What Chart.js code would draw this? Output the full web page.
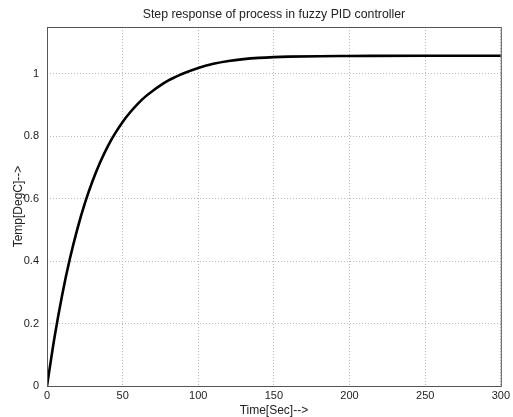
<!DOCTYPE html>
<html>
<head>
<meta charset="utf-8">
<script src="https://cdn.jsdelivr.net/npm/chart.js@4.4.0/dist/chart.umd.min.js"></script>
<style>
  html, body { margin: 0; padding: 0; background: #fff; }
  #wrap { width: 513px; height: 417px; }
</style>
</head>
<body>
<div id="wrap"><canvas id="chart" width="513" height="417"></canvas></div>
<script>
// step response (time in s, temp)
const times = [0, 5, 10, 15, 20, 25, 30, 35, 40, 45, 50, 55, 60, 65, 70, 75, 80, 85, 90, 100, 110, 120, 130, 140, 150, 160, 180, 200, 250, 300];
const temps = [0, 0.157, 0.291, 0.405, 0.502, 0.585, 0.655, 0.715, 0.766, 0.809, 0.846, 0.877, 0.904, 0.927, 0.946, 0.963, 0.978, 0.990, 1.001, 1.019, 1.032, 1.041, 1.047, 1.051, 1.0535, 1.055, 1.0565, 1.057, 1.058, 1.058];
const xTicks = [0, 50, 100, 150, 200, 250, 300];
const yTicks = [0, 0.2, 0.4, 0.6, 0.8, 1];
const titleText = 'Step response of process in fuzzy PID controller';

const FONT = "'Liberation Sans', Arial, sans-serif";

// matlab style box round the axes + title centred on the axes, not the canvas
const framePlugin = {
    id: 'frame',
    afterDraw(chart) {
        const { ctx, chartArea: a } = chart;
        ctx.save();
        ctx.strokeStyle = '#555';
        ctx.lineWidth = 1;
        ctx.strokeRect(a.left + 0.5, a.top + 0.5, a.right - a.left, a.bottom - a.top);
        ctx.fillStyle = '#222';
        ctx.font = '12.3px ' + FONT;
        ctx.textAlign = 'center';
        ctx.textBaseline = 'middle';
        ctx.fillText(titleText, (a.left + a.right) / 2, 15);
        ctx.restore();
    }
};

const gridStyle = {
    color: '#b8b8b8',
    lineWidth: 1,
    drawTicks: false
};

new Chart(document.getElementById('chart'), {
    type: 'line',
    data: {
        datasets: [{
            data: times.map((t, i) => ({ x: t, y: temps[i] })),
            borderColor: '#000',
            borderWidth: 2.6,
            pointRadius: 0,
            cubicInterpolationMode: 'monotone',
            fill: false
        }]
    },
    options: {
        responsive: false,
        animation: false,
        layout: { padding: { left: 11, right: 11, top: 27, bottom: 0 } },
        plugins: {
            legend: { display: false },
            tooltip: { enabled: false },
            title: { display: false }
        },
        scales: {
            x: {
                type: 'linear',
                min: 0,
                max: 300,
                afterBuildTicks: s => { s.ticks = xTicks.map(v => ({ value: v })); },
                afterFit: s => { s.height = 31; },
                ticks: {
                    color: '#222',
                    font: { family: FONT, size: 11 },
                    padding: 3,
                    maxRotation: 0
                },
                grid: gridStyle,
                border: { display: false, dash: [1, 2] },
                title: {
                    display: true,
                    text: 'Time[Sec]-->',
                    color: '#222',
                    font: { family: FONT, size: 12 },
                    padding: { top: 0, bottom: -1 }
                }
            },
            y: {
                type: 'linear',
                min: 0,
                max: 1.15,
                afterBuildTicks: s => { s.ticks = yTicks.map(v => ({ value: v })); },
                afterFit: s => { s.width = 36; },
                ticks: {
                    color: '#222',
                    font: { family: FONT, size: 11 },
                    padding: 8,
                    callback: v => String(Math.round(v * 10) / 10)
                },
                grid: gridStyle,
                border: { display: false, dash: [1, 2] },
                title: {
                    display: true,
                    text: 'Temp[DegC]-->',
                    color: '#222',
                    font: { family: FONT, size: 12 },
                    padding: { top: 0, bottom: 0 }
                }
            }
        }
    },
    plugins: [framePlugin]
});
</script>
</body>
</html>
